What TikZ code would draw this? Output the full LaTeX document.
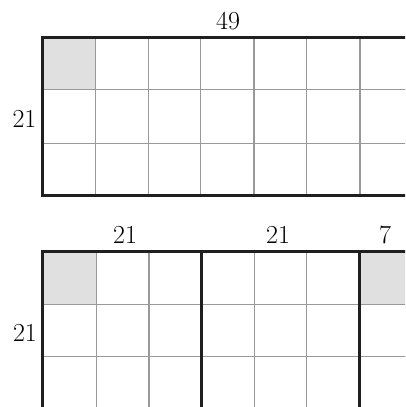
\documentclass[tikz,border=0pt]{standalone}
\begin{document}
\begin{tikzpicture}[x=1pt,y=-1pt,
  thin grid/.style={draw=black!40,line width=1.1pt},
  thick frame/.style={draw=black!88,line width=3pt},
  shade/.style={fill=black!12},
  lbl/.style={font=\fontsize{26}{30}\selectfont,inner sep=0pt}]
\useasboundingbox (0,0) rectangle (405,407);
\begin{scope}
\clip (0,0) rectangle (405,407);
% top grid
\fill[shade] (42,37.5) rectangle (95.7,89.3);
\foreach \x in {95.7,148.3,200.7,254,306.3,360}
  \draw[thin grid] (\x,37.5) -- (\x,195.7);
\foreach \y in {89.3,143.3}
  \draw[thin grid] (42,\y) -- (410,\y);
\draw[thick frame] (410,37.5) -- (42,37.5) -- (42,195.7) -- (410,195.7);
% bottom grid
\fill[shade] (42,251.7) rectangle (96.7,304.3);
\fill[shade] (359.3,251.7) rectangle (410,304.3);
\foreach \x in {96.7,149,254.3,306.7}
  \draw[thin grid] (\x,251.7) -- (\x,410);
\foreach \y in {304.3,356.7}
  \draw[thin grid] (42,\y) -- (410,\y);
\draw[thick frame] (410,251.7) -- (42,251.7) -- (42,410);
\draw[thick frame] (201,251.7) -- (201,410);
\draw[thick frame] (359.3,251.7) -- (359.3,410);
\end{scope}
\node[lbl] (t49) at (228,21) {49};
\node[lbl] (l21a) at (24.5,119) {21};
\node[lbl] (b21a) at (125,235) {21};
\node[lbl] (b21b) at (278,235) {21};
\node[lbl] (b7) at (385,235) {7};
\node[lbl] (l21b) at (25,333) {21};
\end{tikzpicture}
\end{document}
